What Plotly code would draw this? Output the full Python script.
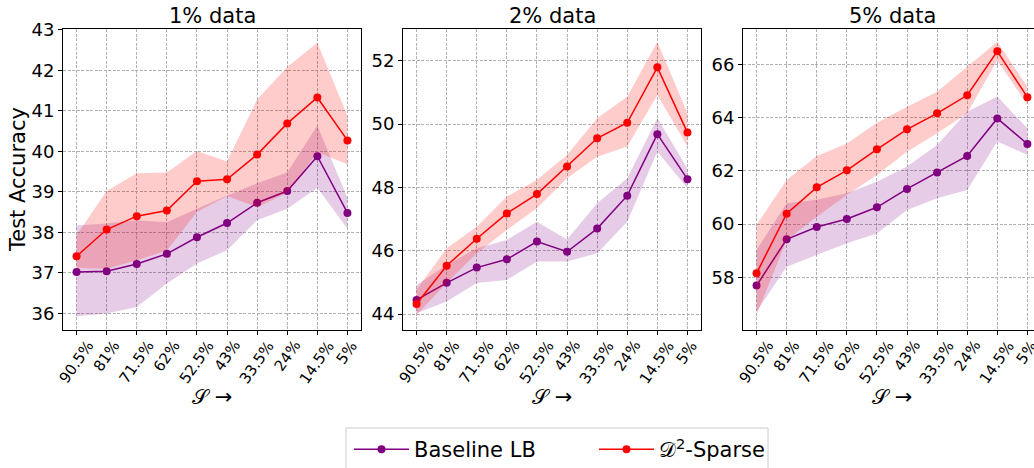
import plotly.graph_objects as go

sparsity_labels = ['90.5%', '81%', '71.5%', '62%', '52.5%', '43%', '33.5%', '24%', '14.5%', '5%']
x_idx = list(range(len(sparsity_labels)))

panel_titles = ['1% data', '2% data', '5% data']

# Panel 1 (1% data)
base1_mean = [37.02, 37.04, 37.22, 37.47, 37.88, 38.23, 38.73, 39.02, 39.88, 38.48]
base1_up = [38.17, 38.22, 38.30, 38.25, 38.58, 38.91, 39.21, 39.48, 40.64, 38.85]
base1_lo = [35.93, 36.00, 36.16, 36.74, 37.23, 37.56, 38.30, 38.58, 39.10, 38.09]
d2_1_mean = [37.41, 38.07, 38.40, 38.54, 39.26, 39.31, 39.92, 40.69, 41.33, 40.27]
d2_1_up = [37.93, 39.02, 39.46, 39.48, 40.01, 39.75, 41.28, 42.08, 42.68, 40.88]
d2_1_lo = [37.12, 37.10, 37.31, 37.55, 38.50, 38.90, 38.62, 38.98, 39.98, 39.68]

# Panel 2 (2% data)
base2_mean = [44.45, 44.99, 45.47, 45.73, 46.29, 45.97, 46.70, 47.74, 49.68, 48.26]
base2_up = [44.92, 45.55, 46.08, 46.34, 46.92, 46.36, 47.50, 48.29, 50.18, 48.60]
base2_lo = [44.03, 44.40, 44.98, 45.08, 45.66, 45.66, 45.92, 46.92, 49.13, 47.97]
d2_2_mean = [44.32, 45.53, 46.38, 47.18, 47.79, 48.66, 49.55, 50.04, 51.79, 49.73]
d2_2_up = [44.77, 46.08, 46.76, 47.71, 48.24, 49.02, 50.18, 50.86, 52.60, 50.34]
d2_2_lo = [43.98, 44.98, 45.92, 46.66, 47.34, 48.29, 48.97, 49.29, 50.92, 49.29]

# Panel 3 (5% data)
base3_mean = [57.69, 59.43, 59.89, 60.19, 60.63, 61.32, 61.94, 62.56, 63.97, 63.01]
base3_up = [59.03, 60.78, 60.91, 61.16, 61.59, 62.16, 62.97, 64.22, 64.79, 63.60]
base3_lo = [56.71, 58.40, 58.84, 59.28, 59.65, 60.53, 60.97, 61.28, 63.10, 62.60]
d2_3_mean = [58.15, 60.39, 61.38, 62.02, 62.81, 63.56, 64.16, 64.84, 66.49, 64.77]
d2_3_up = [59.97, 61.66, 62.56, 63.03, 63.81, 64.41, 64.97, 65.91, 66.85, 65.16]
d2_3_lo = [56.59, 59.40, 60.28, 61.09, 61.84, 62.72, 63.41, 64.16, 66.16, 64.47]

panels = [
    (base1_mean, base1_up, base1_lo, d2_1_mean, d2_1_up, d2_1_lo),
    (base2_mean, base2_up, base2_lo, d2_2_mean, d2_2_up, d2_2_lo),
    (base3_mean, base3_up, base3_lo, d2_3_mean, d2_3_up, d2_3_lo),
]

W, H = 1034, 468
x_domains_px = [(63, 361), (403, 701), (743, 1034)]
y_top_px, y_bot_px = 29, 330
y_ranges = [(35.59, 43.02), (43.5, 53.0), (56.02, 67.33)]
y_dticks = [1, 2, 2]
x_ranges = [(-0.45, 9.45), (-0.45, 9.45), (-0.45, 9.22)]

PURPLE = '#800080'
RED = '#ff0000'
FONT = 'DejaVu Sans'
GRID_DASH = '3px,1.5px'

fig = go.Figure()

for i, (bm, bu, bl, dm, du, dl) in enumerate(panels):
    xa = 'x' if i == 0 else f'x{i+1}'
    ya = 'y' if i == 0 else f'y{i+1}'
    fig.add_trace(go.Scatter(x=x_idx + x_idx[::-1], y=bu + bl[::-1], fill='toself',
                             fillcolor='rgba(128,0,128,0.2)', line=dict(width=0),
                             mode='lines', hoverinfo='skip', showlegend=False, xaxis=xa, yaxis=ya))
    fig.add_trace(go.Scatter(x=x_idx, y=bm, mode='lines+markers', name='Baseline LB',
                             line=dict(color=PURPLE, width=1.5), marker=dict(color=PURPLE, size=8),
                             showlegend=(i == 0), legendrank=1, xaxis=xa, yaxis=ya))
    fig.add_trace(go.Scatter(x=x_idx + x_idx[::-1], y=du + dl[::-1], fill='toself',
                             fillcolor='rgba(255,0,0,0.2)', line=dict(width=0),
                             mode='lines', hoverinfo='skip', showlegend=False, xaxis=xa, yaxis=ya))
    fig.add_trace(go.Scatter(x=x_idx, y=dm, mode='lines+markers', name='𝒟<sup>2</sup>-Sparse',
                             line=dict(color=RED, width=1.5), marker=dict(color=RED, size=8),
                             showlegend=(i == 0), legendrank=2, xaxis=xa, yaxis=ya))

layout = dict(
    width=W, height=H, margin=dict(l=0, r=0, t=0, b=0, autoexpand=False),
    plot_bgcolor='white', paper_bgcolor='white',
    font=dict(family=FONT, color='black'),
    showlegend=True,
    legend=dict(orientation='h', x=349 / W, xanchor='left', y=1 - 429 / H, yanchor='top',
                font=dict(size=21, family=FONT), borderwidth=0,
                bgcolor='rgba(0,0,0,0)', itemwidth=55, entrywidth=175, entrywidthmode='pixels'),
    shapes=[dict(type='rect', xref='paper', yref='paper', x0=346 / W, x1=768 / W,
                 y0=1 - 428 / H, y1=-0.05, line=dict(color='#cccccc', width=1),
                 fillcolor='white', layer='below')],
)

annotations = []
for i in range(3):
    sfx = '' if i == 0 else str(i + 1)
    xa = 'x' + sfx
    x0, x1 = x_domains_px[i]
    layout['xaxis' + sfx] = dict(
        domain=[x0 / W, min(x1 / W, 1.0)], range=list(x_ranges[i]), anchor='y' + sfx,
        tickmode='array', tickvals=x_idx, ticktext=sparsity_labels, showticklabels=False,
        ticks='outside', ticklen=4, tickcolor='black', automargin=False,
        showgrid=True, gridcolor='#b0b0b0', griddash=GRID_DASH, gridwidth=0.8,
        showline=True, linecolor='black', linewidth=1, mirror=True, zeroline=False,
    )
    layout['yaxis' + sfx] = dict(
        domain=[1 - y_bot_px / H, 1 - y_top_px / H], range=list(y_ranges[i]), anchor='x' + sfx,
        dtick=y_dticks[i], tickfont=dict(size=18), ticks='outside', ticklen=4, tickcolor='black',
        automargin=False,
        showgrid=True, gridcolor='#b0b0b0', griddash=GRID_DASH, gridwidth=0.8,
        showline=True, linecolor='black', linewidth=1, mirror=(i < 2), zeroline=False,
    )
    cx = ((x0 + x0 + 298) / 2) / W
    annotations.append(dict(text=panel_titles[i], x=cx, xref='paper', y=1 - 16 / H, yref='paper',
                            showarrow=False, font=dict(size=21), xanchor='center', yanchor='middle'))
    annotations.append(dict(text='𝒮 →', x=cx, xref='paper', y=1 - 397 / H, yref='paper',
                            showarrow=False, font=dict(size=21), xanchor='center', yanchor='middle'))
    for xi, lab in zip(x_idx, sparsity_labels):
        annotations.append(dict(text=lab, x=xi, xref=xa, y=1 - 336 / H, yref='paper',
                                showarrow=False, font=dict(size=15), textangle=-55,
                                xanchor='center', yanchor='top', borderpad=0))

annotations.append(dict(text='Test Accuracy', x=18 / W, xref='paper', y=1 - 180 / H, yref='paper',
                        showarrow=False, font=dict(size=21), textangle=-90,
                        xanchor='center', yanchor='middle'))
layout['annotations'] = annotations
fig.update_layout(**layout)

fig.write_html('out.html')
